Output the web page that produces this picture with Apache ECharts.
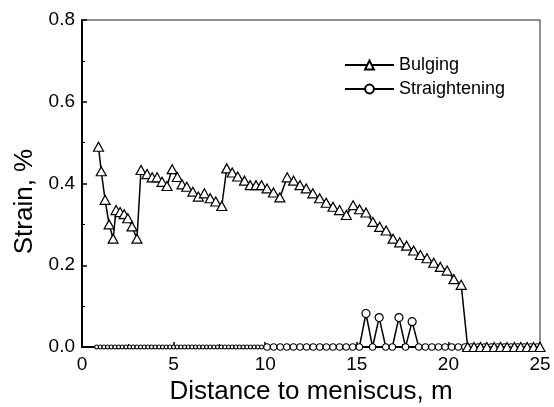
<!DOCTYPE html>
<html>
<head>
<meta charset="utf-8">
<script src="https://cdn.jsdelivr.net/npm/echarts@6/dist/echarts.min.js"></script>
<style>
  html, body { margin: 0; padding: 0; background: #fff; }
  #chart { width: 554px; height: 407px; }
</style>
</head>
<body>
<div id="chart"></div>
<script>
// bulging strain (distance in m, strain in %)
const bulgingX = [
  0.9, 1.05, 1.26, 1.48, 1.7, 1.86, 2.08, 2.3, 2.5, 2.73, 3.0,
  3.22, 3.55, 3.83, 4.1, 4.37, 4.64, 4.92, 5.2, 5.46, 5.72, 6.05, 6.35, 6.68, 7.0, 7.3, 7.63,
  7.9, 8.2, 8.5, 8.87, 9.18, 9.5, 9.8, 10.1, 10.45, 10.8,
  11.2, 11.55, 11.9, 12.24, 12.6, 12.97, 13.33, 13.7, 14.06, 14.43,
  14.8, 15.15, 15.5, 15.88, 16.25, 16.6, 16.98, 17.34, 17.72, 18.1, 18.47, 18.83, 19.2, 19.56, 19.93, 20.3, 20.7,
  21.05, 21.4, 21.75, 22.1, 22.5, 22.85, 23.2, 23.6, 23.95, 24.3, 24.65, 25.0
]
const bulgingY = [
  0.49, 0.43, 0.36, 0.30, 0.265, 0.335, 0.33, 0.325, 0.315, 0.295, 0.265,
  0.433, 0.423, 0.415, 0.415, 0.404, 0.394, 0.435, 0.416, 0.398, 0.392, 0.38, 0.368, 0.376, 0.364, 0.356, 0.345,
  0.437, 0.427, 0.417, 0.407, 0.396, 0.396, 0.396, 0.388, 0.378, 0.366,
  0.415, 0.407, 0.396, 0.388, 0.376, 0.364, 0.353, 0.343, 0.335, 0.323,
  0.347, 0.337, 0.329, 0.306, 0.294, 0.285, 0.265, 0.256, 0.248, 0.236, 0.225, 0.217, 0.206, 0.196, 0.187, 0.166, 0.152,
  0, 0, 0, 0, 0, 0, 0, 0, 0, 0, 0, 0
]

// straightening strain
const straightX = [
  0.8, 1.0, 1.2, 1.4, 1.6, 1.8, 2.0, 2.2, 2.4, 2.6, 2.8, 3.0, 3.2, 3.4, 3.6, 3.8,
  4.0, 4.2, 4.4, 4.6, 4.8, 5.0, 5.2, 5.4, 5.6, 5.8, 6.0, 6.2, 6.4, 6.6, 6.8,
  7.0, 7.2, 7.4, 7.6, 7.8, 8.0, 8.2, 8.4, 8.6, 8.8, 9.0, 9.2, 9.4, 9.6, 9.8,
  10.1, 10.46, 10.82, 11.18, 11.54, 11.9, 12.26, 12.62, 12.98, 13.34, 13.7, 14.06, 14.42, 14.78, 15.14,
  15.5, 15.86, 16.22, 16.58, 16.94, 17.3, 17.66, 18.02, 18.38, 18.74, 19.1, 19.46, 19.82,
  20.18, 20.54, 20.9, 21.26, 21.62, 21.98, 22.34, 22.7, 23.06, 23.42, 23.78, 24.14, 24.5, 24.86
]
const straightY = [
  0, 0, 0, 0, 0, 0, 0, 0, 0, 0, 0, 0, 0, 0, 0, 0,
  0, 0, 0, 0, 0, 0, 0, 0, 0, 0, 0, 0, 0, 0, 0,
  0, 0, 0, 0, 0, 0, 0, 0, 0, 0, 0, 0, 0, 0, 0,
  0, 0, 0, 0, 0, 0, 0, 0, 0, 0, 0, 0, 0, 0, 0,
  0.082, 0, 0.072, 0, 0, 0.072, 0, 0.062, 0, 0, 0, 0, 0,
  0, 0, 0, 0, 0, 0, 0, 0, 0, 0, 0, 0, 0, 0
]

const xTicks = [0, 25, 5]     // min, max, interval
const yTicks = [0, 0.8, 0.2]

const font = 'Liberation Sans, Arial, sans-serif'

function pairs(xs, ys) {
  return xs.map((x, i) => [x, ys[i]])
}

const myChart = echarts.init(document.getElementById('chart'), null, { renderer: 'canvas' })
myChart.setOption({
  animation: false,
  backgroundColor: '#fff',
  grid: {
    left: 82,
    right: 14,
    top: 20,
    bottom: 60,
    outerBoundsMode: 'none',
    containLabel: false,
    show: true,
    borderColor: '#222',
    borderWidth: 1
  },
  legend: {
    orient: 'vertical',
    left: 339,
    top: 51,
    itemWidth: 49,
    itemHeight: 11,
    itemGap: 6,
    textStyle: { fontFamily: font, fontSize: 18, color: '#000' },
    data: ['Bulging', 'Straightening']
  },
  xAxis: {
    type: 'value',
    min: xTicks[0],
    max: xTicks[1],
    interval: xTicks[2],
    name: 'Distance to meniscus, m',
    nameLocation: 'middle',
    nameGap: 30,
    nameTextStyle: { fontFamily: font, fontSize: 26, color: '#000' },
    axisLine: { lineStyle: { color: '#000', width: 2 } },
    axisTick: { inside: true, length: 5, lineStyle: { color: '#000', width: 1.5 } },
    minorTick: { show: true, splitNumber: 2, length: 3, lineStyle: { color: '#000' } },
    splitLine: { show: false },
    axisLabel: { fontFamily: font, fontSize: 19, color: '#000', margin: 8 }
  },
  yAxis: {
    type: 'value',
    min: yTicks[0],
    max: yTicks[1],
    interval: yTicks[2],
    name: 'Strain, %',
    nameLocation: 'middle',
    nameGap: 43,
    nameTextStyle: { fontFamily: font, fontSize: 26, color: '#000', padding: [0, 36, 0, 0] },
    axisLine: { lineStyle: { color: '#000', width: 2 } },
    axisTick: { inside: true, length: 5, lineStyle: { color: '#000', width: 1.5 } },
    minorTick: { show: true, splitNumber: 2, length: 3, lineStyle: { color: '#000' } },
    splitLine: { show: false },
    axisLabel: {
      fontFamily: font, fontSize: 19, color: '#000', margin: 7,
      formatter: v => v.toFixed(1)
    }
  },
  series: [
    {
      name: 'Bulging',
      type: 'line',
      data: pairs(bulgingX, bulgingY),
      symbol: 'triangle',
      symbolSize: [10, 9],
      showAllSymbol: true,
      lineStyle: { color: '#000', width: 1.5 },
      itemStyle: { color: '#fff', borderColor: '#000', borderWidth: 1.2 },
      z: 3
    },
    {
      name: 'Straightening',
      type: 'line',
      data: pairs(straightX, straightY),
      symbol: 'circle',
      symbolSize: v => v[1] > 0 ? 8 : (v[0] < 10 ? 4 : 6.5),
      showAllSymbol: true,
      lineStyle: { color: '#000', width: 1.5 },
      itemStyle: { color: '#fff', borderColor: '#000', borderWidth: 1.2 },
      z: 2
    }
  ]
})
</script>
</body>
</html>
